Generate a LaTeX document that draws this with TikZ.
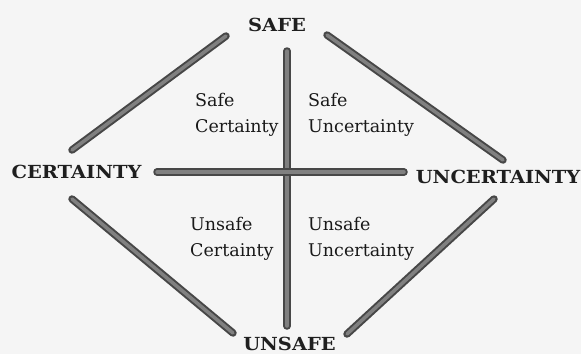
\documentclass[tikz,border=0pt]{standalone}
\usepackage{fontspec}
\newfontfamily\labfont{DejaVu Serif}
\newfontfamily\bigfont{DejaVu Serif}[FakeStretch=1.08]
\begin{document}
\begin{tikzpicture}[x=1pt,y=-1pt,
  pole/.style={inner sep=0pt, text=black!88, font=\bigfont\bfseries\fontsize{18}{20}\selectfont},
  quad/.style={inner sep=0pt, text=black!90, align=left, anchor=base west, font=\labfont\fontsize{17.5}{26}\selectfont},
  bandout/.style={line width=7.5pt, draw=black!72, line cap=round},
  bandin/.style={line width=3.5pt, draw=black!50, line cap=round}]
\fill[black!4] (0,0) rectangle (581,354);
\useasboundingbox (0,0) rectangle (581,354);
% pole labels
\node[pole] (safe) at (277,24.5) {SAFE};
\node[pole] (cert) at (76.5,171.5) {CERTAINTY};
\node[pole, anchor=east] (unc) at (580.5,176.5) {UNCERTAINTY};
\node[pole] (unsafe) at (289.5,344) {UNSAFE};
% quadrant labels (anchored at the baseline of their last line)
\node[quad] (sc) at (195,132) {Safe\\Certainty};
\node[quad] (su) at (308,132) {Safe\\Uncertainty};
\node[quad] (uc) at (190,256) {Unsafe\\Certainty};
\node[quad] (uu) at (308,256) {Unsafe\\Uncertainty};
% band end points
\coordinate (a1) at (226,36);
\coordinate (a2) at (72,150);
\coordinate (b1) at (327,35);
\coordinate (b2) at (503,160);
\coordinate (c1) at (72,199);
\coordinate (c2) at (233,333);
\coordinate (d1) at (494,199);
\coordinate (d2) at (347,334);
\coordinate (v1) at (287,51);
\coordinate (v2) at (287,326);
\coordinate (h1) at (157,172);
\coordinate (h2) at (404,172);
\foreach \p/\q in {a1/a2,b1/b2,c1/c2,d1/d2,v1/v2,h1/h2}{
  \draw[bandout] (\p) -- (\q);
  \draw[bandin] (\p) -- (\q);
}
\end{tikzpicture}
\end{document}
